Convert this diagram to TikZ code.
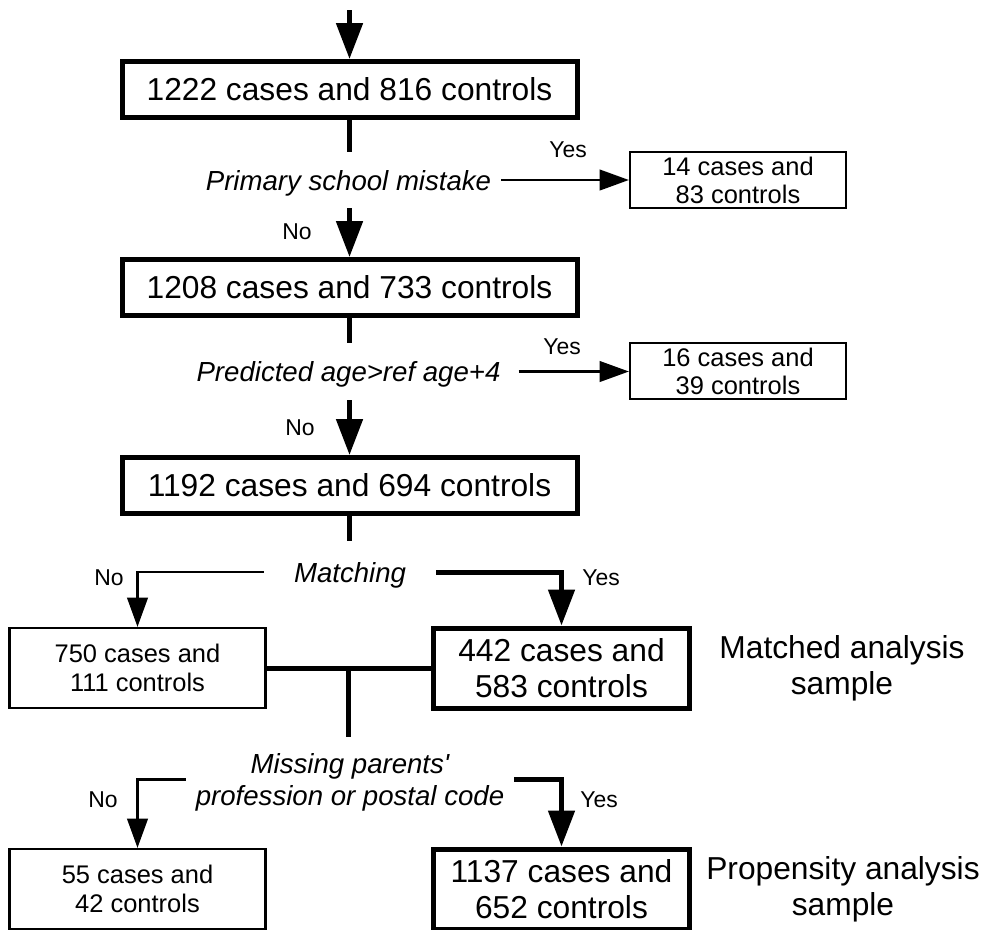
\documentclass[tikz,border=0pt]{standalone}
\usepackage{fontspec}
\setmainfont{Liberation Sans}
\usetikzlibrary{arrows.meta}

\begin{document}
\begin{tikzpicture}[x=0.75pt,y=0.75pt,yscale=-1,xscale=1,
	mainbox/.style={draw,line width=3.75pt,minimum width=341.25pt,minimum height=42pt,inner sep=0pt,font=\fontsize{23.8pt}{27pt}\selectfont},
	sidebox/.style={draw,line width=1.7pt,minimum width=162pt,minimum height=42pt,inner sep=0pt,align=center,font=\fontsize{19.1pt}{21pt}\selectfont},
	lowbox/.style={draw,line width=1.7pt,minimum width=192pt,minimum height=60pt,inner sep=0pt,align=center,font=\fontsize{19.1pt}{21.75pt}\selectfont},
	keybox/.style={draw,line width=3.75pt,minimum width=192pt,minimum height=60pt,inner sep=0pt,align=center,font=\fontsize{23.8pt}{27pt}\selectfont},
	question/.style={inner ysep=0pt,text depth=0pt,align=center,font=\fontsize{20.7pt}{24pt}\selectfont\itshape},
	ynlabel/.style={inner sep=0pt,font=\fontsize{17.2pt}{20pt}\selectfont},
	sidenote/.style={inner sep=0pt,align=center,font=\fontsize{23.8pt}{27pt}\selectfont},
	thickline/.style={line width=3.75pt},
	thickarrow/.style={line width=3.75pt,-{Triangle[length=27pt,width=19.5pt]}},
	thinarrow/.style={line width=1.7pt,-{Triangle[length=22pt,width=15.5pt]}}]
	%set diagram to the size of the figure
	\useasboundingbox (0,0) rectangle (984,929);
	
	% Text Node
	\coordinate (top) at (349.5,10);
	\node[mainbox] (b1) at (349.5,89.5) {1222 cases and 816 controls};
	% Text Node
	\node[question,inner xsep=7.5pt,minimum height=42pt] (q1) at (348.5,180) {Primary school mistake};
	\node[sidebox] (a1) at (738,180) {14 cases and\\83 controls};
	\node[ynlabel] (yes1) at (568,150) {Yes};
	\node[ynlabel] (no1) at (297,232) {No};
	% Text Node
	\node[mainbox] (b2) at (349.5,287.5) {1208 cases and 733 controls};
	% Text Node
	\node[question,inner xsep=13.5pt,minimum height=42.75pt] (q2) at (348.5,371.5) {Predicted age>ref age+4};
	\node[sidebox] (a2) at (738,371) {16 cases and\\39 controls};
	\node[ynlabel] (yes2) at (562,347) {Yes};
	\node[ynlabel] (no2) at (300,428) {No};
	% Text Node
	\node[mainbox] (b3) at (349.5,485.5) {1192 cases and 694 controls};
	% Text Node
	\node[question,inner xsep=22.5pt,minimum height=46.5pt] (q3) at (350,572) {Matching};
	\node[ynlabel] (no3) at (109,578) {No};
	\node[ynlabel] (yes3) at (601,578) {Yes};
	\node[lowbox] (c1) at (137.5,668) {750 cases and\\111 controls};
	\node[keybox] (d1) at (561.5,668) {442 cases and\\583 controls};
	\node[sidenote] (n1) at (842,668) {Matched analysis\\sample};
	% Text Node
	\node[question,inner xsep=7.5pt,minimum height=63.75pt] (q4) at (350,779.5) {Missing parents\textquotesingle\\profession or postal code};
	\node[ynlabel] (no4) at (103,800) {No};
	\node[ynlabel] (yes4) at (599,800) {Yes};
	\node[lowbox] (e1) at (137.5,889) {55 cases and\\42 controls};
	\node[keybox] (f1) at (561.5,889) {1137 cases and\\652 controls};
	\node[sidenote] (n2) at (843,889) {Propensity analysis\\sample};
	
	% Connection
	\draw[thickarrow] (top) -- (b1);
	\draw[thickline] (b1.south) -- (b1.south |- q1.north);
	\draw[thinarrow] (q1.east) -- (q1.east -| a1.west);
	\draw[thickarrow] (b2.north |- q1.south) -- (b2.north);
	% Connection
	\draw[thickline] (b2.south) -- (b2.south |- q2.north);
	\draw[thinarrow] (q2.east) -- (q2.east -| a2.west);
	\draw[thickarrow] (b3.north |- q2.south) -- (b3.north);
	% Connection
	\draw[thickline] (b3.south) -- (b3.south |- q3.north);
	\draw[thinarrow] (q3.west) -| (c1.north);
	\draw[thickarrow] (q3.east) -| (d1.north);
	\draw[thickline] (c1.east) -- (d1.west) coordinate[midway] (m1);
	\draw[thickline] (m1) -- (m1 |- q4.north);
	% Connection
	\draw[thinarrow] (q4.west) -| (e1.north);
	\draw[thickarrow] (q4.east) -| (f1.north);
	
\end{tikzpicture}
\end{document}
